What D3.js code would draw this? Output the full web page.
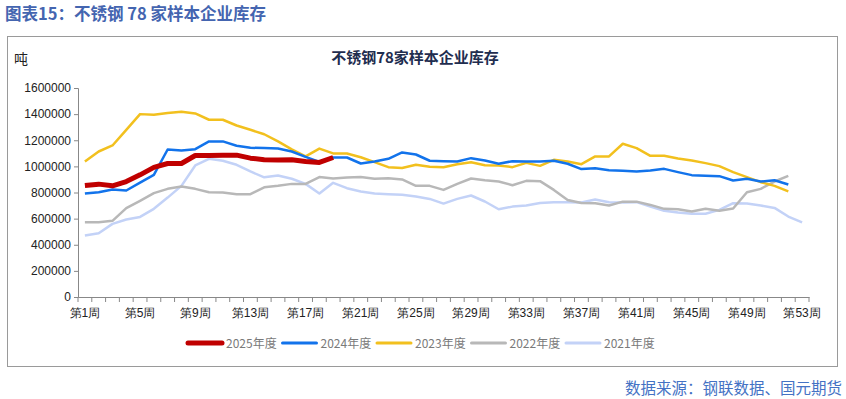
<!DOCTYPE html>
<html>
<head>
<meta charset="utf-8">
<script src="https://cdn.jsdelivr.net/npm/d3@7"></script>
<style>
body{margin:0;background:#fff;font-family:"Noto Sans CJK SC","Liberation Sans",sans-serif;}
</style>
</head>
<body>
<div id="chart"></div>
<script>
// 不锈钢78家样本企业库存 (吨)
var weeks = d3.range(1, 54).map(function(i){ return "第" + i + "周"; });
var yTicks = [0,200000,400000,600000,800000,1000000,1200000,1400000,1600000];

var s2025 = [853000,864000,851000,884000,935000,992000,1022000,1022000,1083000,1083000,1086000,1086000,1063000,1050000,1048000,1050000,1037000,1030000,1068000];
var s2024 = [792000,802000,823000,815000,876000,935000,1129000,1122000,1132000,1191000,1191000,1158000,1142000,1141000,1137000,1114000,1073000,1035000,1068000,1068000,1022000,1037000,1058000,1107000,1091000,1043000,1040000,1037000,1063000,1045000,1020000,1040000,1037000,1037000,1043000,1020000,979000,986000,971000,966000,961000,969000,981000,956000,933000,928000,925000,892000,905000,884000,894000,861000];
var s2023 = [1037000,1114000,1160000,1280000,1400000,1395000,1408000,1418000,1405000,1357000,1357000,1313000,1280000,1246000,1191000,1130000,1076000,1136000,1099000,1098000,1070000,1032000,994000,987000,1012000,997000,994000,1017000,1032000,1009000,1007000,994000,1027000,1004000,1050000,1037000,1017000,1076000,1076000,1173000,1140000,1081000,1081000,1060000,1045000,1025000,1002000,956000,918000,879000,851000,808000];
var s2022 = [572000,572000,583000,680000,736000,795000,828000,846000,828000,802000,800000,787000,787000,840000,851000,866000,866000,918000,907000,915000,918000,905000,910000,900000,851000,851000,820000,866000,907000,894000,884000,856000,889000,887000,820000,743000,720000,718000,700000,730000,730000,705000,675000,672000,654000,675000,660000,677000,802000,828000,884000,928000];
var s2021 = [470000,488000,560000,593000,613000,675000,761000,851000,1007000,1058000,1043000,1012000,961000,916000,930000,905000,866000,792000,874000,833000,808000,792000,787000,782000,769000,751000,715000,751000,777000,731000,672000,692000,700000,720000,726000,726000,723000,746000,726000,723000,726000,692000,660000,647000,637000,637000,667000,718000,715000,700000,682000,616000,572000];

var seriesNames = ["2025年度","2024年度","2023年度","2022年度","2021年度"];
var seriesData = [s2025, s2024, s2023, s2022, s2021];
var colors = ["#C00000","#1273EB","#F2C01E","#B8B8B8","#C3D2F7"];
var widths = [5, 2.5, 2.5, 2.5, 2.5];

var svgWidth = 846, svgHeight = 399;
var margin = {top:88, left:78, right:37, bottom:102};
var width = svgWidth - margin.left - margin.right;
var height = svgHeight - margin.top - margin.bottom;

var svg = d3.select("#chart").append("svg").attr("width",svgWidth).attr("height",svgHeight);

// header and frame
svg.append("text").attr("x",5).attr("y",20).attr("font-size","16.5px").attr("font-weight","bold")
   .attr("fill","#4465B0").text("图表15：不锈钢 78 家样本企业库存");
svg.append("rect").attr("x",7.5).attr("y",36.5).attr("width",830).attr("height",330)
   .attr("fill","none").attr("stroke","#9a9a9a").attr("stroke-width",1);
svg.append("text").attr("x",842).attr("y",394).attr("text-anchor","end").attr("font-size","15.5px")
   .attr("fill","#4472C4").text("数据来源：钢联数据、国元期货");

svg.append("text").attr("x",415).attr("y",63).attr("text-anchor","middle").attr("font-size","15px")
   .attr("font-weight","bold").attr("fill","#1F2D4F").text("不锈钢78家样本企业库存");
svg.append("text").attr("x",14).attr("y",64).attr("font-size","14px").attr("fill","#222").text("吨");

var chartGroup = svg.append("g").attr("transform",`translate(${margin.left},${margin.top})`);

var xScale = d3.scaleBand().domain(weeks).range([0,width]);
var yScale = d3.scaleLinear().domain([0,1600000]).range([height,0]);

var leftAxis = d3.axisLeft(yScale).tickValues(yTicks).tickSize(4).tickFormat(d3.format("d"));
var bottomAxis = d3.axisBottom(xScale).tickSize(0).tickFormat(function(d,i){ return i % 4 === 0 ? d : ""; });

var yG = chartGroup.append("g").call(leftAxis);
yG.selectAll("text").attr("font-size","12px").attr("fill","#222").attr("font-family","Liberation Sans, Arial, sans-serif");
yG.selectAll("line,path").attr("stroke","#888");

var xG = chartGroup.append("g").attr("transform",`translate(0,${height})`).call(bottomAxis);
xG.selectAll("text").attr("font-size","12px").attr("fill","#222").attr("dy","1.4em");
xG.select("path").attr("stroke","#888");
// tick marks between categories
xG.selectAll(".sep").data(d3.range(0, weeks.length + 1)).enter().append("line")
  .attr("x1",d=>d*xScale.step()).attr("x2",d=>d*xScale.step()).attr("y1",0).attr("y2",5)
  .attr("stroke","#888");

var line = d3.line().x(function(d,i){ return xScale(weeks[i]) + xScale.bandwidth()/2; }).y(d=>yScale(d));

// draw older years first, 2025 on top
for (var k = seriesData.length - 1; k >= 0; k--) {
    chartGroup.append("path").attr("d",line(seriesData[k])).attr("fill","none")
      .attr("stroke",colors[k]).attr("stroke-width",widths[k]).attr("stroke-linejoin","round");
}

// legend
var legend = svg.append("g").attr("transform","translate(188,343)");
seriesNames.forEach(function(name,i){
    var g = legend.append("g").attr("transform",`translate(${i*94.5},0)`);
    g.append("line").attr("x1",0).attr("x2",34).attr("y1",0).attr("y2",0)
      .attr("stroke",colors[i]).attr("stroke-width",i===0?5:3).attr("stroke-linecap","round");
    g.append("text").attr("x",38).attr("y",4.5).attr("font-size","12px").attr("fill","#7a7a7a").text(name);
});
</script>
</body>
</html>
